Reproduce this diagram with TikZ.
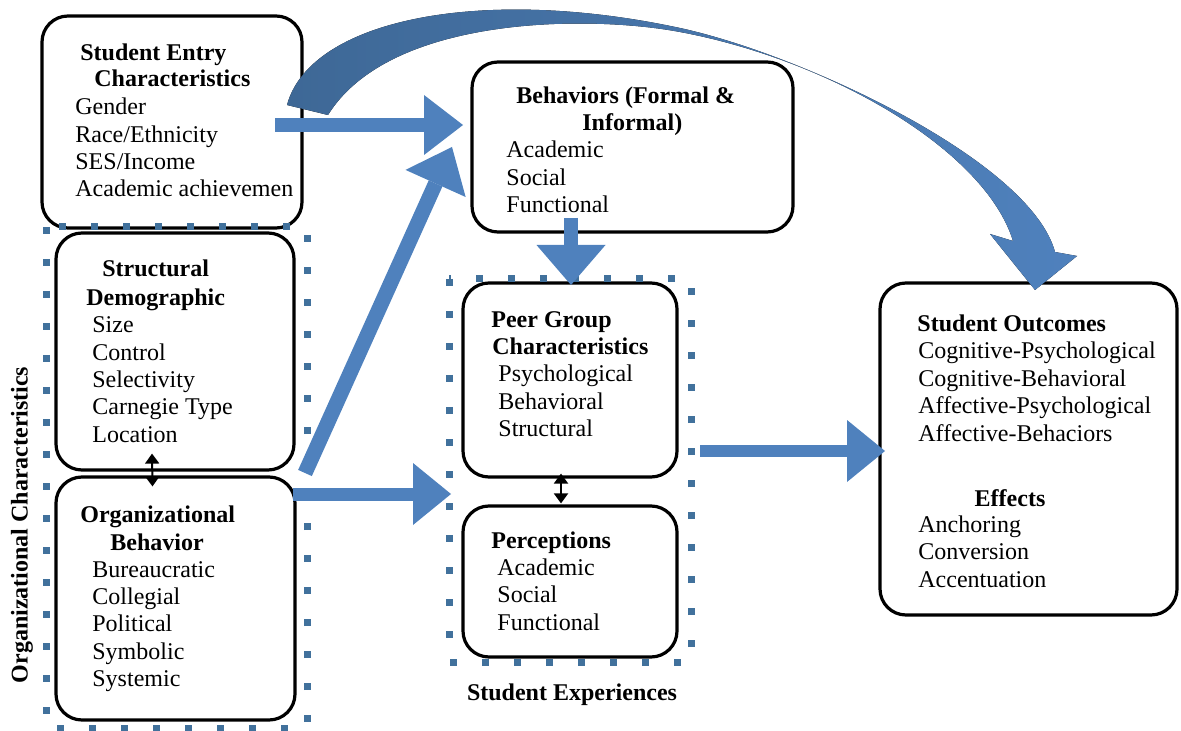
\documentclass[tikz,border=0pt]{standalone}
\usepackage{fontspec}
\setmainfont{Liberation Serif}
\usetikzlibrary{arrows.meta,calc}

\definecolor{arrowblue}{RGB}{79,129,189}
\definecolor{curvedark}{RGB}{62,104,150}
\definecolor{dotblue}{RGB}{65,113,156}

\tikzset{
  stage/.style={draw, line width=1.6pt, rounded corners=13pt, fill=white, inner sep=0pt},
  ttl/.style={anchor=base west, inner sep=0pt, font=\fontsize{12}{13.65}\selectfont\bfseries},
  itm/.style={anchor=base west, inner sep=0pt, font=\fontsize{12}{13.65}\selectfont},
  lbl/.style={inner sep=0pt, font=\fontsize{12}{13.65}\selectfont\bfseries},
  grp/.style={draw=dotblue, line width=3.5pt, dash pattern=on 3.5pt off 12.5pt},
  blk/.style n args={3}{draw=arrowblue, line width=#1pt,
    -{Triangle[width=#2pt, length=#3pt, line width=0pt]}},
  dbl/.style={line width=1pt,
    {Triangle[width=7pt,length=5pt]}-{Triangle[width=7pt,length=5pt]}},
}

\begin{document}
\begin{tikzpicture}[x=0.5pt, y=-0.5pt]
\useasboundingbox (0,0) rectangle (1181,731);

% boxes
\node[stage, minimum width=130pt, minimum height=106pt] (entry) at (172,122) {};
\node[stage, minimum width=160.5pt, minimum height=85pt] (behave) at (632.5,147) {};
\node[stage, minimum width=119pt, minimum height=118.5pt] (struct) at (175,351.5) {};
\node[stage, minimum width=119.5pt, minimum height=121.5pt] (orgbeh) at (175.5,598.5) {};
\node[stage, minimum width=107pt, minimum height=97pt] (peer) at (570,380) {};
\node[stage, minimum width=107pt, minimum height=75.5pt] (percep) at (570,581.5) {};
\node[stage, minimum width=148.5pt, minimum height=166pt] (outcome) at (1028.5,449) {};

% dotted groups
\draw[grp] (46,227) rectangle (307,728);
\draw[grp] (449,279) rectangle (691,662);

% texts
\node[ttl] (entry-t1) at (80,61) {Student Entry};
\node[ttl] (entry-t2) at (94,87) {Characteristics};
\foreach \txt [count=\k from 0] in {Gender, Race/Ethnicity, SES/Income, Academic achievemen}
  \node[itm] (entry-\k) at (75,115+27.3*\k) {\txt};

\node[ttl] (behave-t1) at (516,104) {Behaviors (Formal \&};
\node[ttl] (behave-t2) at (582,131) {Informal)};
\foreach \txt [count=\k from 0] in {Academic, Social, Functional}
  \node[itm] (behave-\k) at (506,158+27.3*\k) {\txt};

\node[ttl] (struct-t1) at (102,277) {Structural};
\node[ttl] (struct-t2) at (86,306) {Demographic};
\foreach \txt [count=\k from 0] in {Size, Control, Selectivity, Carnegie Type, Location}
  \node[itm] (struct-\k) at (92,333+27.3*\k) {\txt};

\node[ttl] (orgbeh-t1) at (80,522) {Organizational};
\node[ttl] (orgbeh-t2) at (110,550) {Behavior};
\foreach \txt [count=\k from 0] in {Bureaucratic, Collegial, Political, Symbolic, Systemic}
  \node[itm] (orgbeh-\k) at (92,577+27.4*\k) {\txt};

\node[ttl] (peer-t1) at (491,328) {Peer Group};
\node[ttl] (peer-t2) at (492,355) {Characteristics};
\foreach \txt [count=\k from 0] in {Psychological, Behavioral, Structural}
  \node[itm] (peer-\k) at (498,382+27.5*\k) {\txt};

\node[ttl] (percep-t1) at (491,548) {Perceptions};
\foreach \txt [count=\k from 0] in {Academic, Social, Functional}
  \node[itm] (percep-\k) at (497,575+27.5*\k) {\txt};

\node[ttl] (outcome-t1) at (917,332) {Student Outcomes};
\foreach \txt [count=\k from 0] in {Cognitive-Psychological, Cognitive-Behavioral, Affective-Psychological, Affective-Behaciors}
  \node[itm] (outcome-\k) at (918,359+27.5*\k) {\txt};
\node[lbl, anchor=base] (effects) at (1010,506) {Effects};
\foreach \txt [count=\k from 0] in {Anchoring, Conversion, Accentuation}
  \node[itm] (effects-\k) at (918,532+27.5*\k) {\txt};

\node[lbl, anchor=base] (stuexp) at (572,700) {Student Experiences};
\node[lbl, rotate=90] (orgchar) at (22,525) {Organizational Characteristics};

% two way links
\draw[dbl] ([xshift=-11.5pt,yshift=9pt]struct.south) -- ([xshift=-11.5pt,yshift=-5.5pt]orgbeh.north);
\draw[dbl] ([xshift=-4.5pt,yshift=2.5pt]peer.south) -- ([xshift=-4.5pt,yshift=0.5pt]percep.north);

% block arrows
\coordinate (a1s) at (275,125);
\coordinate (a1e) at (463,125);
\coordinate (a2s) at (305,473);
\coordinate (a2e) at (452,147);
\coordinate (a3s) at (293,494);
\coordinate (a3e) at (451,494);
\coordinate (a4s) at (571,218);
\coordinate (a4e) at (571,285);
\coordinate (a5s) at (700,451);
\coordinate (a5e) at (885,451);

\draw[blk={7}{30}{19.5}] (a1s) -- (a1e);
\draw[blk={7.5}{33}{20}] (a2s) -- (a2e);
\draw[blk={6.5}{31}{19}] (a3s) -- (a3e);
\draw[blk={7}{34.5}{20}] (a4s) -- (a4e);
\draw[blk={6}{31}{19}] (a5s) -- (a5e);

% curved arrow entry -> outcomes
\fill[left color=curvedark, right color=arrowblue]
  (287,105) .. controls (310,20) and (480,-15) .. (680,28)
  .. controls (800,54) and (1030,160) .. (1055,252)
  -- (1077,256) -- (1035,290) -- (990,234) -- (1013,241)
  .. controls (985,150) and (830,60) .. (680,32)
  .. controls (590,15) and (390,15) .. (328,115) -- cycle;

\end{tikzpicture}
\end{document}
